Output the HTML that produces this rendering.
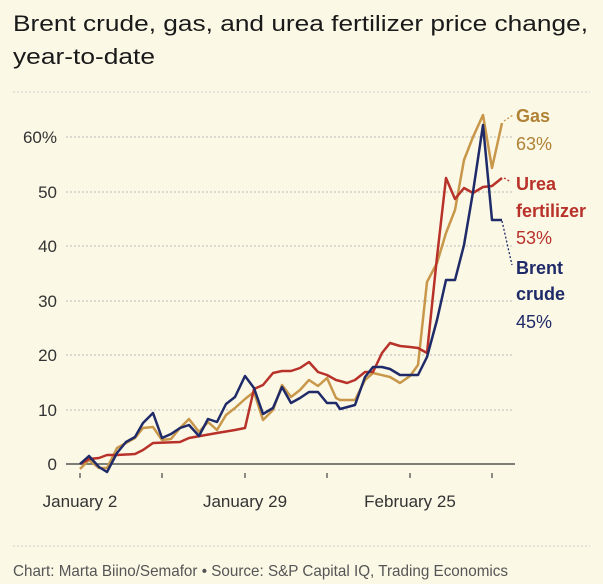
<!DOCTYPE html><html><head><style>body{margin:0;background:#fbf8e6}svg{display:block}</style></head><body>
<svg width="603" height="584" xmlns="http://www.w3.org/2000/svg" font-family="Liberation Sans, sans-serif">
<rect width="603" height="584" fill="#fbf8e6"/>
<text x="13" y="31" font-size="22.5" fill="#1a1a1a" textLength="575" lengthAdjust="spacingAndGlyphs">Brent crude, gas, and urea fertilizer price change,</text>
<text x="13" y="64" font-size="22.5" fill="#1a1a1a" textLength="142" lengthAdjust="spacingAndGlyphs">year-to-date</text>
<line x1="13" y1="92" x2="590" y2="92" stroke="#ccc" stroke-dasharray="2,2"/>
<g stroke="#bbb" stroke-dasharray="2,2">
<line x1="66" y1="137" x2="514" y2="137"/><line x1="66" y1="192" x2="514" y2="192"/><line x1="66" y1="246" x2="514" y2="246"/><line x1="66" y1="301" x2="514" y2="301"/><line x1="66" y1="355" x2="514" y2="355"/><line x1="66" y1="410" x2="514" y2="410"/></g>
<line x1="66" y1="464" x2="515" y2="464" stroke="#555" stroke-width="1.5"/>
<g stroke="#444" stroke-width="1.2"><line x1="80" y1="473" x2="80" y2="478"/><line x1="162" y1="473" x2="162" y2="478"/><line x1="245" y1="473" x2="245" y2="478"/><line x1="327" y1="473" x2="327" y2="478"/><line x1="410" y1="473" x2="410" y2="478"/><line x1="492" y1="473" x2="492" y2="478"/></g>
<g font-size="17" fill="#333" text-anchor="end"><text x="57" y="143">60%</text><text x="57" y="198">50</text><text x="57" y="252">40</text><text x="57" y="307">30</text><text x="57" y="361">20</text><text x="57" y="416">10</text><text x="57" y="470">0</text></g>
<g font-size="17" fill="#333" text-anchor="middle"><text x="80" y="507">January 2</text><text x="245" y="507">January 29</text><text x="410" y="507">February 25</text></g>
<g fill="none" stroke-width="2.5" stroke-linejoin="round">
<polyline stroke="#c8974a" points="80,469 89,460 99,468 107,468 117,448 126,443 135,438 143,428 153,427 162,440 171,439 180,428 189,419 199,432 208,422 217,430 226,415 235,408 245,399 254,392 263,420 273,410 282,385 291,397 300,390 309,380 318,386 327,378 336,398 340,400 355,400 365,380 373,373 390,377 400,383 410,376 418,365 427,282 437,263 446,233 455,210 464,160 473,137 483,115 492,168 502,123"/>
<polyline stroke="#b8322a" points="80,464 89,459 99,458 107,455 117,455 135,454 143,450 153,443 180,442 189,438 217,433 235,430 245,428 254,389 263,385 273,373 282,371 291,371 300,368 309,362 318,372 327,375 336,380 340,381 347,383 355,380 365,372 373,372 382,353 390,343 400,346 410,347 418,348 427,353 437,257 446,178 455,199 464,188 473,193 483,187 492,186 502,178"/>
<polyline stroke="#1f2a68" points="80,464 89,456 99,467 107,472 117,453 126,442 135,437 143,423 153,413 162,438 171,434 180,428 189,425 199,436 208,419 217,422 226,404 235,397 245,376 254,388 263,414 273,408 282,387 291,403 300,398 309,392 318,392 327,403 336,403 340,409 355,405 365,377 373,367 382,367 390,369 400,375 418,375 427,357 437,320 446,280 455,280 464,245 473,192 483,125 492,220 502,220"/>
</g>
<g stroke-width="1.3" stroke-dasharray="2,2" fill="none"><line x1="504" y1="121" x2="513" y2="115" stroke="#c8974a"/><line x1="504" y1="178" x2="511" y2="182" stroke="#b8322a"/><line x1="502" y1="221" x2="512" y2="265" stroke="#1f2a68"/></g>
<g font-size="18"><text x="516" y="122" font-weight="bold" fill="#b08236">Gas</text><text x="516" y="150" fill="#b08236">63%</text>
<text x="516" y="190" font-weight="bold" fill="#b8322a">Urea</text><text x="516" y="217" font-weight="bold" fill="#b8322a">fertilizer</text><text x="516" y="244" fill="#b8322a">53%</text>
<text x="516" y="274" font-weight="bold" fill="#1f2a68">Brent</text><text x="516" y="300" font-weight="bold" fill="#1f2a68">crude</text><text x="516" y="328" fill="#1f2a68">45%</text></g>
<line x1="13" y1="546" x2="590" y2="546" stroke="#ccc" stroke-dasharray="2,2"/>
<text x="13" y="576" font-size="16" fill="#555" textLength="495" lengthAdjust="spacingAndGlyphs">Chart: Marta Biino/Semafor • Source: S&amp;P Capital IQ, Trading Economics</text>
</svg></body></html>
